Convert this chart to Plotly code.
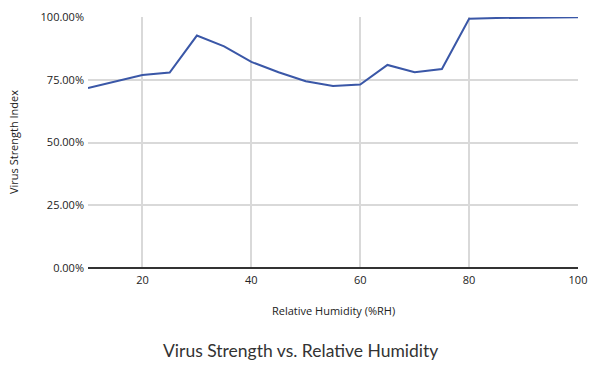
import plotly.graph_objects as go

humidity = [10, 15, 20, 25, 30, 35, 40, 45, 50, 55, 60, 65, 70, 75, 80, 85, 90, 95, 100]
strength = [0.717, 0.743, 0.769, 0.779, 0.926, 0.883, 0.821, 0.780, 0.744, 0.725, 0.731,
            0.809, 0.780, 0.793, 0.993, 0.996, 0.998, 0.999, 0.999]

L, R, T, B = 88, 578, 17, 268
fig = go.Figure()
fig.add_trace(go.Scatter(x=humidity, y=strength, mode="lines",
                         line=dict(color="#3a57a7", width=2)))

font_family = "Open Sans, Lato, sans-serif"
fig.update_layout(
    width=600, height=375,
    margin=dict(l=L, r=600 - R, t=T, b=375 - B, autoexpand=False),
    paper_bgcolor="white", plot_bgcolor="white",
    showlegend=False,
    font=dict(family=font_family, color="#222", size=11),
    xaxis=dict(range=[10, 100], tick0=0, dtick=20, showgrid=True, automargin=False,
               gridcolor="#d9d9d9", gridwidth=1.5, zeroline=False, ticklabelstandoff=4,
               showline=False, ticks="", tickfont=dict(size=11, color="#222")),
    yaxis=dict(range=[0, 1], tickvals=[0, 0.25, 0.5, 0.75, 1.0], tickformat=".2%", automargin=False,
               showgrid=True, gridcolor="#d9d9d9", gridwidth=1.5, ticklabelstandoff=3,
               zeroline=True, zerolinecolor="#333", zerolinewidth=1.5,
               showline=False, ticks="", tickfont=dict(size=11, color="#222")),
    annotations=[
        dict(text="Virus Strength vs. Relative Humidity", xref="paper", yref="paper",
             x=(300 - L) / (R - L), y=-(350 - B) / (B - T), xanchor="center", yanchor="middle",
             showarrow=False, font=dict(size=17.5, color="#333", family="Lato, sans-serif")),
        dict(text="Relative Humidity (%RH)", xref="paper", yref="paper",
             x=(333 - L) / (R - L), y=-(310 - B) / (B - T), xanchor="center", yanchor="middle",
             showarrow=False, font=dict(size=11, color="#222", family=font_family)),
        dict(text="Virus Strength Index", xref="paper", yref="paper", textangle=-90,
             x=-(L - 13) / (R - L), y=(B - 142) / (B - T), xanchor="center", yanchor="middle",
             showarrow=False, font=dict(size=11, color="#222", family=font_family)),
    ],
)
fig.write_html("out.html", config={"displayModeBar": False},
               post_script="document.body.style.margin='0px';")
